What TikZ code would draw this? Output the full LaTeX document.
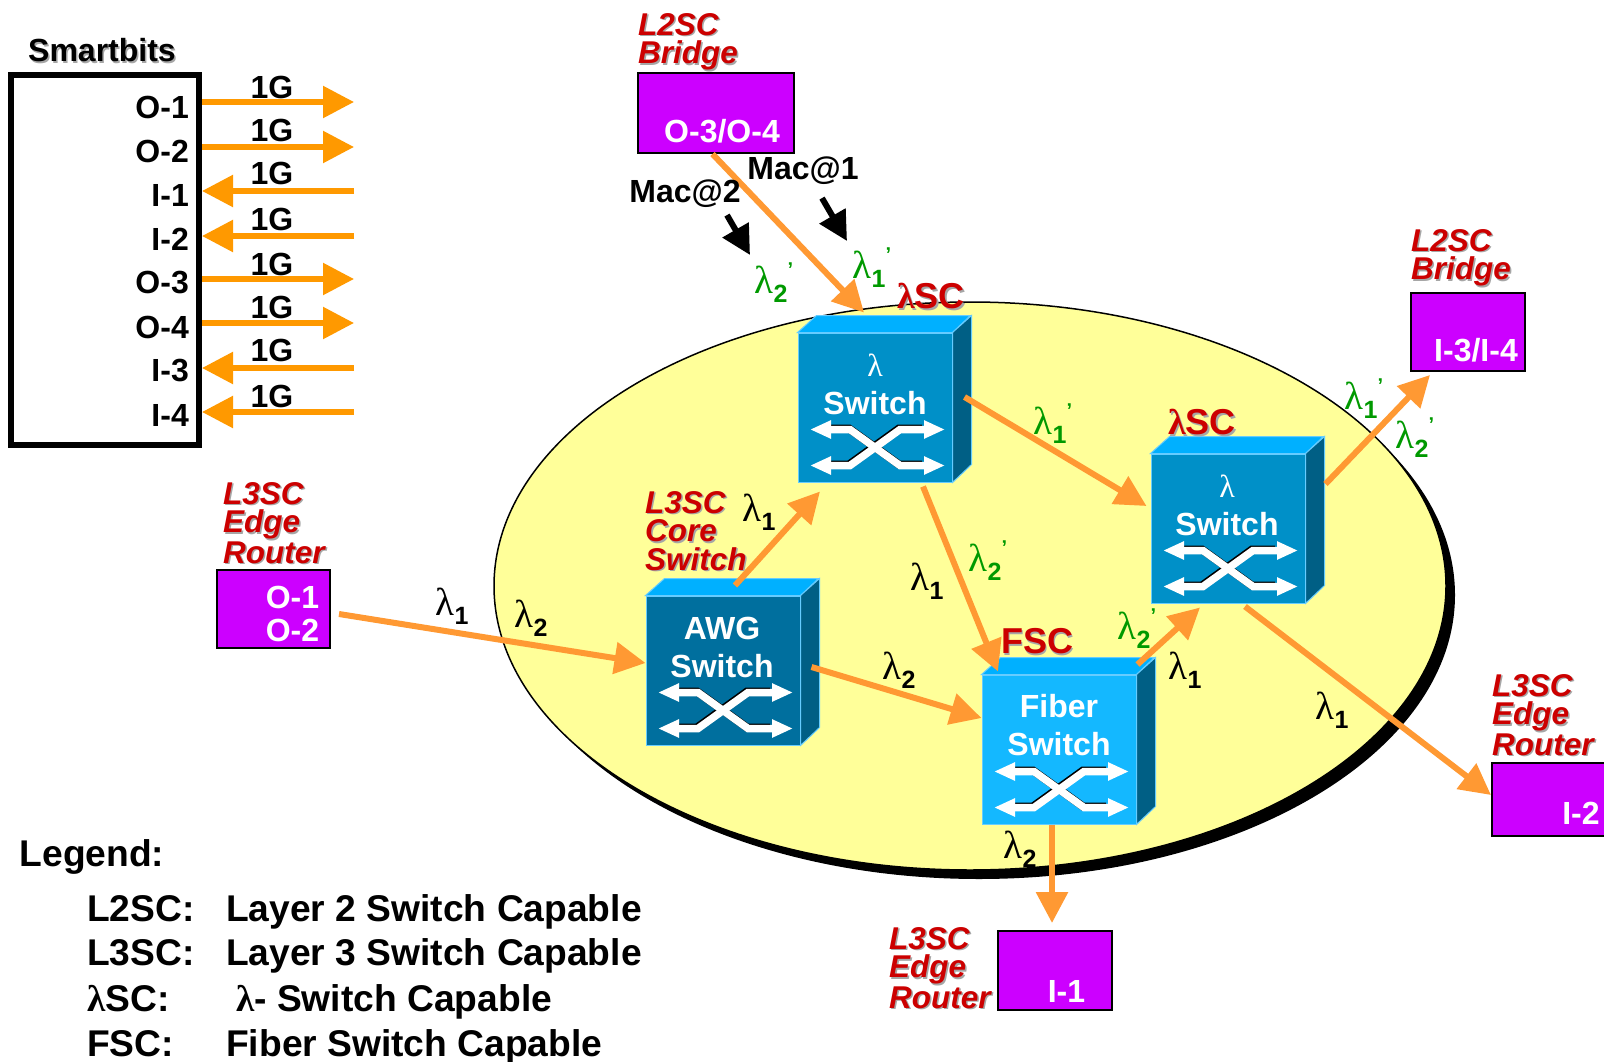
\documentclass[tikz,border=0pt]{standalone}
\usepackage{fontspec}
\setmainfont{Liberation Sans}
\newfontfamily\lamfont{Liberation Serif}
\usepackage{xcolor}
\usepackage{tikz}
\usetikzlibrary{arrows.meta, positioning}

\definecolor{blobyellow}{HTML}{FFFF99}
\definecolor{portpurple}{HTML}{CC00FF}
\definecolor{flowcol}{HTML}{FF9933}
\definecolor{linkcol}{HTML}{FF9900}
\definecolor{redlbl}{HTML}{CC0000}
\definecolor{greenlbl}{HTML}{009900}
\definecolor{lamfront}{HTML}{0090C8}
\definecolor{awgfront}{HTML}{006F9E}
\definecolor{fiberfront}{HTML}{14B8FF}
\definecolor{swtop}{HTML}{00B0FF}
\definecolor{swside}{HTML}{005F85}
\definecolor{swedge}{HTML}{66CCFF}

\newcommand{\shadowed}[1]{\leavevmode\rlap{\raisebox{-1.5pt}{\kern1.5pt\textcolor{black!35}{#1}}}#1}
\newcommand{\lam}[1]{{\lamfont\mdseries\fontsize{39}{39}\selectfont λ}\raisebox{-9pt}{\fontsize{25}{25}\selectfont #1}}
\newcommand{\lamp}[1]{\lam{#1}\raisebox{17pt}{\fontsize{20}{20}\selectfont '}}

\tikzset{
  crossicon/.pic={
    \draw[line width=8pt, black, shift={(-1,-1)}] (-45,22) -- (-25,22) -- (25,58) -- (48,58);
    \draw[line width=8pt, black, shift={(-1,-1)}] (-45,58) -- (-25,58) -- (25,22) -- (48,22);
    \draw[crossline] (-65,22) -- (-25,22) -- (25,58) -- (70,58);
    \draw[crossline] (-65,58) -- (-25,58) -- (25,22) -- (70,22);
  },
  crossline/.style={line width=7.5pt, white, {Triangle[length=21pt,width=17pt]}-{Triangle[length=21pt,width=17pt]}},
  swfront/.style={draw=swedge, line width=1pt, minimum width=154pt, minimum height=149pt, inner sep=0pt},
  swlabel/.style={text=white, font=\bfseries\fontsize{32}{32}\selectfont, inner sep=0pt},
  portbox/.style={draw=black, line width=2pt, fill=portpurple, inner sep=0pt},
  portlabel/.style={text=white, font=\bfseries\fontsize{32}{33}\selectfont, inner sep=0pt, align=center},
  redtitle/.style={text=redlbl, font=\bfseries\itshape\fontsize{31.5}{28.5}\selectfont, inner sep=0pt, align=left, anchor=north west},
  redcap/.style={text=redlbl, font=\bfseries\fontsize{36}{36}\selectfont, inner sep=0pt},
  plain/.style={font=\bfseries\fontsize{32}{32}\selectfont, inner sep=0pt},
  lamblack/.style={font=\bfseries, inner sep=0pt},
  lamgreen/.style={font=\bfseries, text=greenlbl, inner sep=0pt},
  legend/.style={font=\bfseries\fontsize{37.2}{37.2}\selectfont, inner sep=0pt, anchor=base west},
  flow/.style={line width=6pt, flowcol, -{Triangle[length=31pt,width=31pt]}},
  link/.style={line width=5.5pt, linkcol, -{Triangle[length=31pt,width=31pt]}},
  macarrow/.style={line width=6pt, black, -{Triangle[length=29pt,width=29pt]}}
}

% one switch: name, centre, front colour
\newcommand{\switchunit}[3]{
  \node[swfront, fill=#3] (#1) at (#2) {};
  \draw[swedge, line width=1pt, fill=swtop] (#1.north west) -- ++(19,-17) -- ++(154,0) -- (#1.north east) -- cycle;
  \draw[swedge, line width=1pt, fill=swside] (#1.north east) -- ++(19,-17) -- ++(0,149) -- (#1.south east) -- cycle;
  \pic at (#1.center) {crossicon};
}

\begin{document}
\begin{tikzpicture}[x=1pt, y=-1pt]
\useasboundingbox (0,0) rectangle (1604,1062);

% Blob
\fill[black] (979,595) ellipse [x radius=476, y radius=284];
\draw[black, line width=1.5pt, fill=blobyellow] (970,586) ellipse [x radius=476, y radius=284];

% Smartbits
\node[draw, line width=6pt, minimum width=188pt, minimum height=370pt, inner sep=0pt] (sb) at (105,260) {};
\node[font=\bfseries\fontsize{32}{32}\selectfont, inner sep=0pt] (sbtitle) at (102,51) {\shadowed{Smartbits}};
\node[plain, anchor=east] (pA) at (189,107) {O-1};
\node[plain, anchor=east] (pB) at (189,151) {O-2};
\node[plain, anchor=east] (pC) at (189,195) {I-1};
\node[plain, anchor=east] (pD) at (189,239) {I-2};
\node[plain, anchor=east] (pE) at (189,283) {O-3};
\node[plain, anchor=east] (pF) at (189,327) {O-4};
\node[plain, anchor=east] (pG) at (189,371) {I-3};
\node[plain, anchor=east] (pH) at (189,415) {I-4};
\coordinate (eA) at (354,102);
\coordinate (eB) at (354,147);
\coordinate (eC) at (354,191);
\coordinate (eD) at (354,236);
\coordinate (eE) at (354,279);
\coordinate (eF) at (354,323);
\coordinate (eG) at (354,368);
\coordinate (eH) at (354,412);
\draw[link] (eA -| sb.east) -- (eA);
\draw[link] (eB -| sb.east) -- (eB);
\draw[link] (eC) -- (eC -| sb.east);
\draw[link] (eD) -- (eD -| sb.east);
\draw[link] (eE -| sb.east) -- (eE);
\draw[link] (eF -| sb.east) -- (eF);
\draw[link] (eG) -- (eG -| sb.east);
\draw[link] (eH) -- (eH -| sb.east);
\node[plain] (gA) at (272,87) {1G};
\node[plain] (gB) at (272,130) {1G};
\node[plain] (gC) at (272,173) {1G};
\node[plain] (gD) at (272,219) {1G};
\node[plain] (gE) at (272,264) {1G};
\node[plain] (gF) at (272,307) {1G};
\node[plain] (gG) at (272,350) {1G};
\node[plain] (gH) at (272,396) {1G};

% Switches
\switchunit{swA}{875,407.5}{lamfront}
\switchunit{swB}{1228,528.5}{lamfront}
\switchunit{swC}{723,670.5}{awgfront}
\switchunit{swD}{1059,749.5}{fiberfront}
\node[swlabel] (swAa) at (875,365) {\lamfont\mdseries λ};
\node[swlabel] (swAb) at (875,403) {Switch};
\node[swlabel] (swBa) at (1227,486) {\lamfont\mdseries λ};
\node[swlabel] (swBb) at (1227,524) {Switch};
\node[swlabel] (swCa) at (722,628) {AWG};
\node[swlabel] (swCb) at (722,666) {Switch};
\node[swlabel] (swDa) at (1059,706) {Fiber};
\node[swlabel] (swDb) at (1059,744) {Switch};

% Ports
\node[portbox, minimum width=156pt, minimum height=80pt] (brA) at (715.5,113) {};
\node[portbox, minimum width=114pt, minimum height=78pt] (brB) at (1468,332) {};
\node[portbox, minimum width=113pt, minimum height=78pt] (rtL) at (273.5,609) {};
\node[portbox, minimum width=114pt, minimum height=79pt] (rtB) at (1055,970.5) {};
\node[portbox, minimum width=114pt, minimum height=73pt] (rtR) at (1549,799.5) {};
\node[portlabel] (brAt) at (722,131) {O-3/O-4};
\node[portlabel] (brBt) at (1476,350) {I-3/I-4};
\node[portlabel] (rtLt) at (292.5,613.5) {O-1\\O-2};
\node[portlabel] (rtBt) at (1066.5,991) {I-1};
\node[portlabel] (rtRt) at (1581,813) {I-2};
\node[redtitle] (tbrA) at (638,13) {\shadowed{L2SC}\\\shadowed{Bridge}};
\node[redtitle] (tbrB) at (1411,229) {\shadowed{L2SC}\\\shadowed{Bridge}};
\node[redtitle] (trtL) at (223,482) {\shadowed{L3SC}\\\shadowed{Edge}\\\shadowed{Router}};
\node[redtitle] (tsw) at (645,491) {\shadowed{L3SC}\\\shadowed{Core}\\\shadowed{Switch}};
\node[redtitle] (trtR) at (1492,674) {\shadowed{L3SC}\\\shadowed{Edge}\\\shadowed{Router}};
\node[redtitle] (trtB) at (889,927) {\shadowed{L3SC}\\\shadowed{Edge}\\\shadowed{Router}};
\node[redcap] (capA) at (931,297) {\shadowed{{\lamfont λ}SC}};
\node[redcap] (capB) at (1202,423) {\shadowed{{\lamfont λ}SC}};
\node[redcap] (capD) at (1037,642) {\shadowed{FSC}};

% Pointers
\draw[flow] ([xshift=-3pt]brA.south) -- ([xshift=-11pt,yshift=20pt]swA.north);
\draw[flow] ([xshift=8pt,yshift=-5pt]rtL.east) -- ([xshift=0pt,yshift=7.5pt]swC.west);
\draw[flow] ([xshift=12pt,yshift=10pt]swC.north) -- ([xshift=-55pt,yshift=-9pt]swA.south);
\draw[flow] ([xshift=11pt,yshift=3.5pt]swC.east) -- ([xshift=0pt,yshift=31.5pt]swD.west);
\draw[flow] ([xshift=12pt,yshift=10.5pt]swA.east) -- ([xshift=-4pt,yshift=22.5pt]swB.west);
\draw[flow] ([xshift=48pt,yshift=-4pt]swA.south) -- ([xshift=-61pt,yshift=3pt]swD.north);
\draw[flow] ([xshift=1pt,yshift=10pt]swD.north east) -- ([xshift=-28pt,yshift=-4pt]swB.south);
\draw[flow] ([xshift=20pt,yshift=44.5pt]swB.east) -- ([xshift=-38pt,yshift=-3pt]brB.south);
\draw[flow] ([xshift=17pt,yshift=-3pt]swB.south) -- ([xshift=0pt,yshift=4.5pt]rtR.west);
\draw[flow] ([xshift=-7pt]swD.south) -- ([xshift=-3pt,yshift=7pt]rtB.north);

% Mac labels
\node[plain] (macA) at (803,171) {Mac@1};
\node[plain] (macB) at (685,194) {Mac@2};
\coordinate (macAtip) at (847,241);
\coordinate (macBtip) at (750,255);
\draw[macarrow] ([xshift=19pt,yshift=-13pt]macA.south) -- (macAtip);
\draw[macarrow] ([xshift=42pt,yshift=-7pt]macB.south) -- (macBtip);

% Wavelengths
\node[lamblack] (la) at (452,606) {\lam{1}};
\node[lamblack] (lb) at (531,618) {\lam{2}};
\node[lamblack] (lc) at (759,512) {\lam{1}};
\node[lamblack] (ld) at (927,581) {\lam{1}};
\node[lamblack] (le) at (899,670) {\lam{2}};
\node[lamblack] (lf) at (1185,670) {\lam{1}};
\node[lamblack] (lg) at (1332,710) {\lam{1}};
\node[lamblack] (lh) at (1020,849) {\lam{2}};
\node[lamgreen] (li) at (988,561) {\lamp{2}};
\node[lamgreen] (lj) at (1137,629) {\lamp{2}};
\node[lamgreen] (lk) at (1053,424) {\lamp{1}};
\node[lamgreen] (ll) at (872,268) {\lamp{1}};
\node[lamgreen] (lm) at (774,283) {\lamp{2}};
\node[lamgreen] (ln) at (1364,399) {\lamp{1}};
\node[lamgreen] (lo) at (1415,438) {\lamp{2}};

% Legend
\node[legend] (leg) at (19.5,866) {Legend:};
\node[legend] (legA) at (87,921) {L2SC:};
\node[legend] (legB) at (87,965) {L3SC:};
\node[legend] (legC) at (87,1011) {{\lamfont λ}SC:};
\node[legend] (legD) at (87,1056) {FSC:};
\node[legend] (legAt) at (226,921.5) {Layer 2 Switch Capable};
\node[legend] (legBt) at (226,965.5) {Layer 3 Switch Capable};
\node[legend] (legCt) at (236,1011) {{\lamfont λ}- Switch Capable};
\node[legend] (legDt) at (226,1056) {Fiber Switch Capable};
\end{tikzpicture}
\end{document}
